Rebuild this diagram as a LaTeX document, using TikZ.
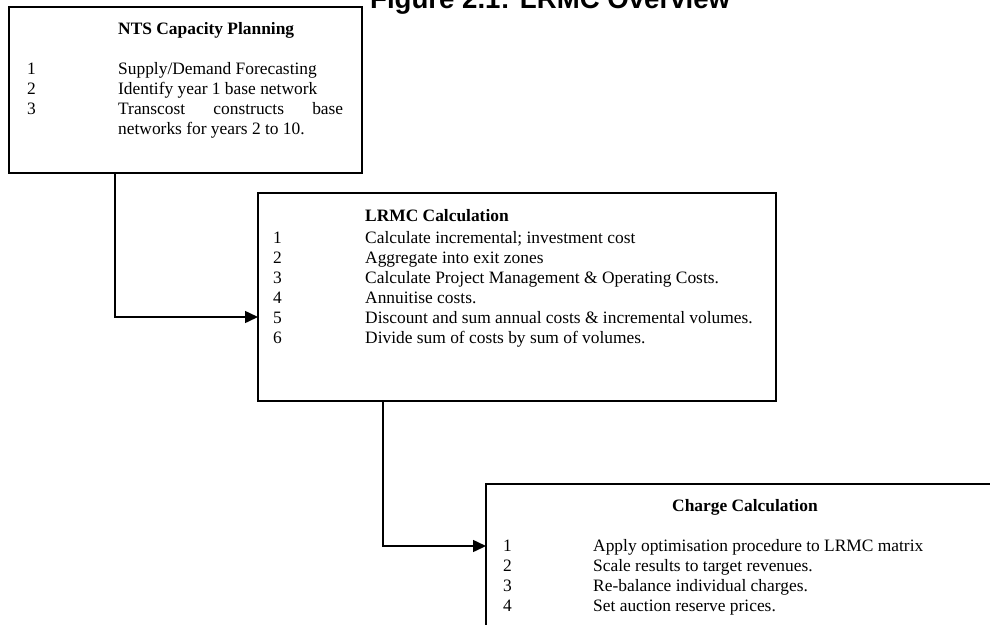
\documentclass[tikz,border=0pt]{standalone}
\usepackage{fontspec}
\setmainfont{Liberation Serif}
\newfontfamily\titlefont{Liberation Sans}
\usetikzlibrary{arrows.meta}
\tikzset{>={Triangle[length=13pt,width=12pt]}}
\tikzstyle{box}=[draw,line width=2pt,inner sep=0pt,outer sep=0pt,anchor=north west]
\tikzstyle{txt}=[inner sep=0pt,anchor=base west,font=\fontsize{17.4}{20}\selectfont]
\tikzstyle{head}=[txt,font=\fontsize{17.4}{20}\selectfont\bfseries]
\tikzstyle{link}=[->,line width=1.5pt]
\newcommand\steplist[5]{{% prefix, x of number, x of text, y of first line, items
  \foreach \t [count=\n] in {#5}{
    \node[txt] (#1n\n) at (#2,{#4+20*(\n-1)}) {\n};
    \node[txt] (#1t\n) at (#3,{#4+20*(\n-1)}) {\t};
  }
}}

\begin{document}
\begin{tikzpicture}[x=1pt,y=-1pt]
  \useasboundingbox (0,0) rectangle (990,624);
  \clip (0,0) rectangle (990,624);

  % title, only its lower part shows
  \node[anchor=base west,inner sep=0pt,font=\titlefont\bfseries\fontsize{27.6}{30}\selectfont]
    (title) at (370,8) {Figure 2.1: LRMC Overview};

  % BOXES
  \node[box,minimum width=353pt,minimum height=166pt] (plan) at (9,7) {};
  \node[box,minimum width=518pt,minimum height=208pt] (lrmc) at (258,193) {};
  \node[box,minimum width=524pt,minimum height=216pt] (chg) at (486,484) {};

  % NTS capacity planning
  \node[head] (planh) at (118,34) {NTS Capacity Planning};
  \steplist{plan}{27}{118}{74}{{Supply/Demand Forecasting},
    {Identify year 1 base network},
    {\makebox[225pt][s]{Transcost constructs base}}}
  \node[txt] (plant4) at (118,134) {networks for years 2 to 10.};

  % LRMC calculation
  \node[head] (lrmch) at (365,221) {LRMC Calculation};
  \steplist{lrmc}{273}{365}{243}{{Calculate incremental; investment cost},
    {Aggregate into exit zones},
    {Calculate Project Management \& Operating Costs.},
    {Annuitise costs.},
    {Discount and sum annual costs \& incremental volumes.},
    {Divide sum of costs by sum of volumes.}}

  % charge calculation
  \node[head] (chgh) at (672,511) {Charge Calculation};
  \steplist{chg}{503}{593}{551}{{Apply optimisation procedure to LRMC matrix},
    {Scale results to target revenues.},
    {Re-balance individual charges.},
    {Set auction reserve prices.}}

  % LINKS
  \draw[link] ([xshift=106pt]plan.south west) |- ([yshift=-124pt]lrmc.north west);
  \draw[link] ([xshift=125pt]lrmc.south west) |- ([yshift=-62pt]chg.north west);
\end{tikzpicture}
\end{document}
